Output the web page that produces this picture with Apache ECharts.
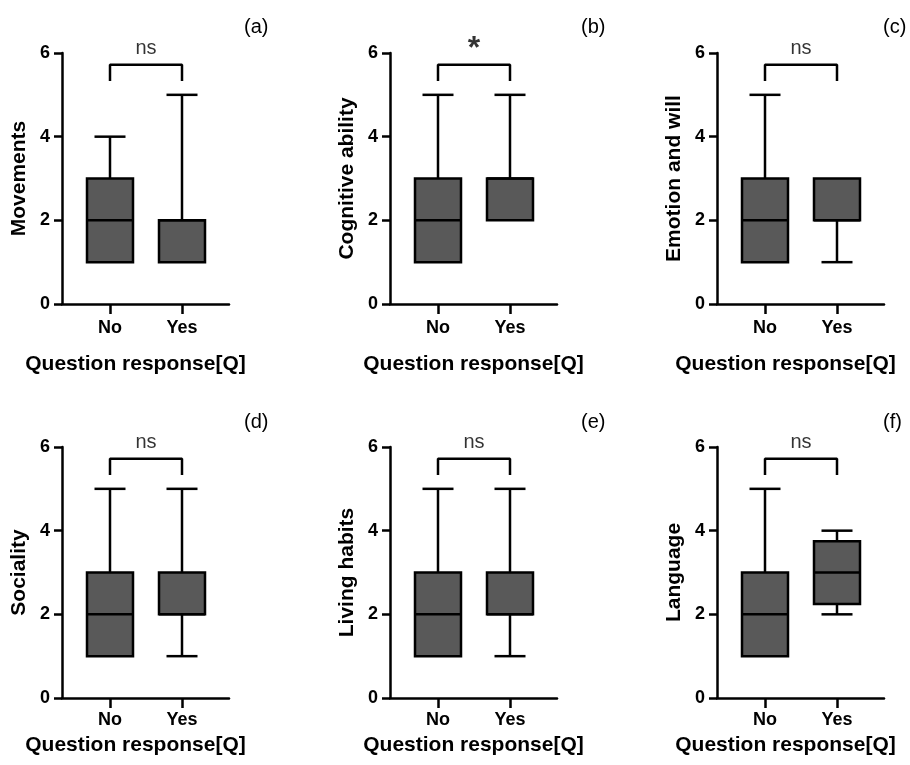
<!DOCTYPE html>
<html>
<head>
<meta charset="utf-8">
<script src="https://cdn.jsdelivr.net/npm/echarts@6/dist/echarts.min.js"></script>
<style>
  html, body { margin: 0; background: #fff; }
  #chart { width: 910px; height: 765px; }
</style>
</head>
<body>
<div id="chart"></div>
<script>
  // data
  const categories = ['No', 'Yes'];
  const panelTags = ['(a)', '(b)', '(c)', '(d)', '(e)', '(f)'];
  const yNames = ['Movements', 'Cognitive ability', 'Emotion and will', 'Sociality', 'Living habits', 'Language'];
  const sigLabels = ['ns', '*', 'ns', 'ns', 'ns', 'ns'];
  // [min, Q1, median, Q3, max]
  const noStats = [
    [1, 1, 2, 3, 4],
    [1, 1, 2, 3, 5],
    [1, 1, 2, 3, 5],
    [1, 1, 2, 3, 5],
    [1, 1, 2, 3, 5],
    [1, 1, 2, 3, 5]
  ];
  const yesStats = [
    [1, 1, 2, 2, 5],
    [2, 2, 3, 3, 5],
    [1, 2, 2, 3, 3],
    [1, 2, 2, 3, 5],
    [1, 2, 2, 3, 5],
    [2, 2.25, 3, 3.75, 4]
  ];
  const yTicks = [0, 2, 4, 6];
  const bracketLow = 5.33;
  const bracketHigh = 5.72;

  // layout
  const colLeft = [62, 390, 717];
  const colNameShift = [20, 0, 30];
  const rowTop = [53, 447];
  const gridW = 167, gridH = 251;
  const font = '"Liberation Sans", Arial, Helvetica, sans-serif';
  const lw = 2.5;

  function renderBox (params, api) {
    const x = api.value(0);
    const p = [1, 2, 3, 4, 5].map(d => api.coord([x, api.value(d)]));
    const cx = p[0][0];
    const half = 23, cap = 15.5;
    const line = (x1, y1, x2, y2) => ({
      type: 'line',
      shape: { x1, y1, x2, y2 },
      style: { stroke: '#000', lineWidth: lw }
    });
    const kids = [];
    if (api.value(5) > api.value(4)) {
      kids.push(line(cx, p[4][1], cx, p[3][1]), line(cx - cap, p[4][1], cx + cap, p[4][1]));
    }
    if (api.value(1) < api.value(2)) {
      kids.push(line(cx, p[0][1], cx, p[1][1]), line(cx - cap, p[0][1], cx + cap, p[0][1]));
    }
    kids.push({
      type: 'rect',
      shape: { x: cx - half, y: p[3][1], width: half * 2, height: p[1][1] - p[3][1] },
      style: { fill: '#595959', stroke: '#000', lineWidth: lw }
    });
    kids.push(line(cx - half, p[2][1], cx + half, p[2][1]));
    return { type: 'group', children: kids };
  }

  const grid = [], xAxis = [], yAxis = [], series = [], graphic = [];
  for (let i = 0; i < 6; i++) {
    const col = i % 3, row = Math.floor(i / 3);
    grid.push({ left: colLeft[col], top: rowTop[row], width: gridW, height: gridH });
    xAxis.push({
      type: 'value',
      gridIndex: i,
      min: 1 - 48 / 72,
      max: 2 + 47 / 72,
      splitLine: { show: false },
      axisLine: { show: true, lineStyle: { color: '#000', width: lw } },
      axisTick: { show: true, customValues: [1, 2], length: 10, lineStyle: { color: '#000', width: lw } },
      axisLabel: {
        customValues: [1, 2],
        formatter: v => categories[Math.round(v) - 1],
        margin: row === 0 ? 15 : 13,
        color: '#000', fontWeight: 'bold', fontSize: 18, fontFamily: font
      },
      name: 'Question response[Q]',
      nameLocation: 'middle',
      nameGap: row === 0 ? 50 : 37,
      nameTextStyle: {
        color: '#000', fontWeight: 'bold', fontSize: 21, fontFamily: font,
        padding: [0, colNameShift[col], 0, 0]
      }
    });
    yAxis.push({
      type: 'value',
      gridIndex: i,
      min: yTicks[0],
      max: yTicks[yTicks.length - 1],
      interval: 2,
      splitLine: { show: false },
      axisLine: { show: true, lineStyle: { color: '#000', width: lw } },
      axisTick: { show: true, length: 8, lineStyle: { color: '#000', width: lw } },
      axisLabel: { margin: 12, color: '#000', fontWeight: 'bold', fontSize: 18, fontFamily: font },
      name: yNames[i],
      nameLocation: 'middle',
      nameGap: 32,
      nameTextStyle: { color: '#000', fontWeight: 'bold', fontSize: 21, fontFamily: font }
    });
    series.push({
      type: 'custom',
      xAxisIndex: i,
      yAxisIndex: i,
      renderItem: renderBox,
      encode: { x: 0, y: [1, 2, 3, 4, 5] },
      data: [[1].concat(noStats[i]), [2].concat(yesStats[i])]
    });
    series.push({
      type: 'line',
      xAxisIndex: i,
      yAxisIndex: i,
      symbol: 'none',
      lineStyle: { color: '#000', width: lw },
      data: [[1, bracketLow], [1, bracketHigh], [2, bracketHigh], [2, bracketLow]]
    });
    const star = sigLabels[i] === '*';
    series.push({
      type: 'scatter',
      xAxisIndex: i,
      yAxisIndex: i,
      symbolSize: 0,
      data: [[1.5, bracketHigh]],
      label: {
        show: true,
        position: 'top',
        distance: star ? 0 : 6,
        formatter: sigLabels[i],
        color: '#000',
        fontSize: star ? 32 : 20,
        fontWeight: star ? 'bold' : 'normal',
        fontFamily: font
      }
    });
    graphic.push({
      type: 'text',
      left: [244, 581, 883][col],
      top: [17, 412][row],
      style: { text: panelTags[i], fontSize: 20, fontFamily: font, fill: '#000' }
    });
  }

  const chart = echarts.init(document.getElementById('chart'));
  chart.setOption({
    animation: false,
    backgroundColor: '#fff',
    grid,
    xAxis,
    yAxis,
    series,
    graphic
  });
</script>
</body>
</html>
